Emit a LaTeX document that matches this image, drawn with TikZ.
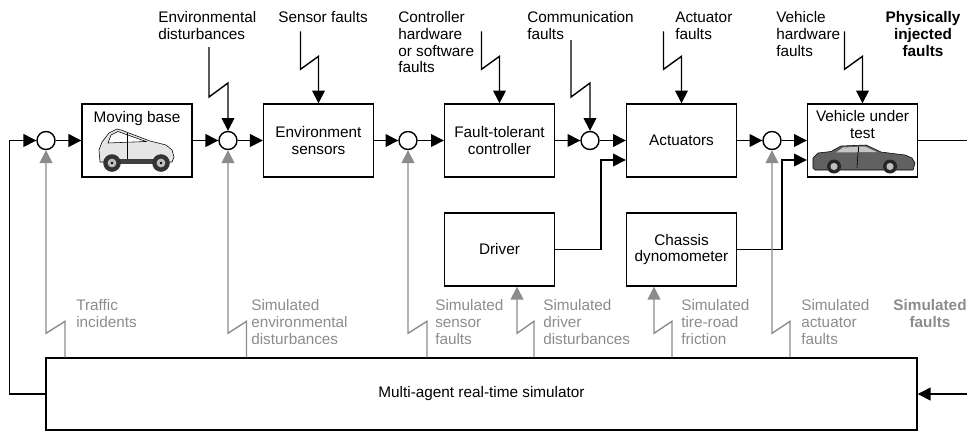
\documentclass[tikz,border=0pt]{standalone}
\usepackage{fontspec}
\setmainfont{Liberation Sans}
\usetikzlibrary{arrows.meta,calc}
\definecolor{simgray}{gray}{0.55}

\begin{document}
\begin{tikzpicture}[x=0.25mm, y=-0.25mm,
	font=\fontsize{10.9pt}{11.9pt}\selectfont,
	blk/.style={draw, line width=1pt, minimum width=27.5mm, minimum height=18.25mm, inner sep=0pt, align=center},
	sj/.style={draw, circle, line width=1pt, minimum size=4.5mm, inner sep=0pt},
	sig/.style={line width=1pt, -{Triangle[length=3.2mm, width=3.2mm]}},
	simsig/.style={simgray, line width=1pt, -{Triangle[length=3.2mm, width=3.2mm]}},
	lbl/.style={anchor=base west, align=left, inner sep=0pt},
	slbl/.style={lbl, text=simgray}]
	\useasboundingbox (0,0) rectangle (967,431);

	% forward chain: junctions and blocks
	\node[sj] (sj1) at (46,140.5) {};
	\node[blk] (base) at (137,140.5) {};
	\node[anchor=base] (basetxt) at (137,122.7) {Moving base};
	\node[sj] (sj2) at (228,140.5) {};
	\node[blk] (sens) at (318.5,140.5) {Environment\\sensors};
	\node[sj] (sj3) at (408,140.5) {};
	\node[blk] (ftc) at (499.5,140.5) {Fault-tolerant\\controller};
	\node[sj] (sj4) at (590,140.5) {};
	\node[blk] (act) at (681.5,140.5) {Actuators};
	\node[sj] (sj5) at (772,140.5) {};
	\node[blk] (veh) at (862.5,140.5) {};
	% base anchor of a multi-line node sits on its last line
	\node[anchor=base, align=center] (vehtxt) at (862.5,138.4) {Vehicle under\\test};
	\node[blk] (drv) at (499.5,249.5) {Driver};
	\node[blk] (chs) at (681.5,249.5) {Chassis\\dynomometer};
	\node[blk, minimum width=217.75mm, minimum height=18mm] (simu) at (481.5,394) {Multi-agent real-time simulator};
	\coordinate (out) at (967,140.5);
	\coordinate (simin) at (967,394);
	\coordinate (drvin) at ($(drv.south)+(17.5,0)$);
	\coordinate (chsin) at ($(chs.south)+(-27.5,0)$);

	\draw[sig] (sj1) -- (base);
	\draw[sig] (base) -- (sj2);
	\draw[sig] (sj2) -- (sens);
	\draw[sig] (sens) -- (sj3);
	\draw[sig] (sj3) -- (ftc);
	\draw[sig] (ftc) -- (sj4);
	\draw[sig] (sj4) -- (act);
	\draw[sig] (act) -- (sj5);
	\draw[sig] (sj5) -- (veh);
	\draw[line width=1pt] (veh) -- (out);
	\draw[sig] (simin) -- (simu);
	\draw[sig] (simu.west) -- ++(-36,0) |- (sj1);
	\draw[sig] (drv.east) -| ($(act.west)+(-25,19.5)$) -- ($(act.west)+(0,19.5)$);
	\draw[sig] (chs.east) -| ($(veh.west)+(-25,19.5)$) -- ($(veh.west)+(0,19.5)$);

	% physically injected faults (top)
	\node[lbl] (envlbl) at (158,39.4) {Environmental\\disturbances};
	\node[lbl] (senlbl) at (278,22.7) {Sensor faults};
	\node[lbl] (ctrlbl) at (398,72.8) {Controller\\hardware\\or software\\faults};
	\node[lbl] (comlbl) at (527,39.4) {Communication\\faults};
	\node[lbl] (actlbl) at (675,39.4) {Actuator\\faults};
	\node[lbl] (vehlbl) at (776,56.1) {Vehicle\\hardware\\faults};
	\node[anchor=base, align=center, inner sep=0pt, font=\fontsize{10.9pt}{11.9pt}\selectfont\bfseries] (phys) at (923,56.1) {Physically\\injected\\faults};
	\draw[sig] ($(sj2)+(-19,-93.5)$) -- ++(0,50) -- ++(19,-14) -- (sj2);
	\draw[sig] ($(sens.north)+(-18,-72)$) -- ++(0,38) -- ++(18,-13) -- (sens);
	\draw[sig] ($(ftc.north)+(-18,-72)$) -- ++(0,38) -- ++(18,-13) -- (ftc);
	\draw[sig] ($(sj4)+(-19,-100.5)$) -- ++(0,57) -- ++(19,-14) -- (sj4);
	\draw[sig] ($(act.north)+(-18,-72)$) -- ++(0,38) -- ++(18,-13) -- (act);
	\draw[sig] ($(veh.north)+(-18,-72)$) -- ++(0,38) -- ++(18,-13) -- (veh);

	% simulated faults (bottom)
	\node[slbl] (trflbl) at (76,327.7) {Traffic\\incidents};
	\node[slbl] (senvlbl) at (251,344.4) {Simulated\\environmental\\disturbances};
	\node[slbl] (ssenlbl) at (435,344.4) {Simulated\\sensor\\faults};
	\node[slbl] (sdrvlbl) at (543,344.4) {Simulated\\driver\\disturbances};
	\node[slbl] (stirlbl) at (681,344.4) {Simulated\\tire-road\\friction};
	\node[slbl] (sactlbl) at (801,344.4) {Simulated\\actuator\\faults};
	\node[anchor=base, align=center, inner sep=0pt, text=simgray, font=\fontsize{10.9pt}{11.9pt}\selectfont\bfseries] (simf) at (930,327.7) {Simulated\\faults};
	\draw[simsig] ($(sj1|-simu.north)+(19,0)$) -- ++(0,-36) -- ++(-19,12) -- (sj1);
	\draw[simsig] ($(sj2|-simu.north)+(18.5,0)$) -- ++(0,-36) -- ++(-18.5,12) -- (sj2);
	\draw[simsig] ($(sj3|-simu.north)+(19,0)$) -- ++(0,-36) -- ++(-19,12) -- (sj3);
	\draw[simsig] ($(drvin|-simu.north)+(17,0)$) -- ++(0,-36) -- ++(-17,12) -- (drvin);
	\draw[simsig] ($(chsin|-simu.north)+(18,0)$) -- ++(0,-36) -- ++(-18,12) -- (chsin);
	\draw[simsig] ($(sj5|-simu.north)+(18,0)$) -- ++(0,-36) -- ++(-18,12) -- (sj5);

	% small moving-base car
	\begin{scope}[line width=0.4pt]
		\filldraw[fill=gray!20] (100,162) -- (99,150) -- (102,142) -- (109,133) -- (117,129) -- (121,130) -- (150,141) -- (166,145) -- (172,150) -- (174,157) -- (172,162) -- cycle;
		\filldraw[fill=white] (111,135) -- (118,131.5) -- (146,141.5) -- (108,143) -- cycle;
		\draw (127,133) -- (127,160);
		\fill[black!75] (120,159) rectangle (153,164);
		\foreach \x in {112,161} {
			\fill[black!80] (\x,163) circle (2.2mm);
			\fill[gray!50] (\x,163) circle (1.1mm);
			\fill[black] (\x,163) circle (0.35mm);
		}
	\end{scope}
	% sedan under test
	\begin{scope}[line width=0.4pt]
		\filldraw[fill=black!62] (813,168) -- (813,158) -- (818,153) -- (831,151.5) -- (841,146) -- (866,145) -- (881,152) -- (905,155) -- (912,158) -- (915,163) -- (913,170) -- (815,170) -- cycle;
		\fill[gray!45] (843,147.5) -- (865,146.5) -- (877,152) -- (836,152.5) -- cycle;
		\draw (858,146.5) -- (858,152);
		\draw (858,152) -- (857,168);
		\foreach \x in {834,890} {
			\fill[black!85] (\x,166.5) circle (1.75mm);
			\fill[gray!50] (\x,166.5) circle (0.9mm);
		}
	\end{scope}
\end{tikzpicture}
\end{document}
